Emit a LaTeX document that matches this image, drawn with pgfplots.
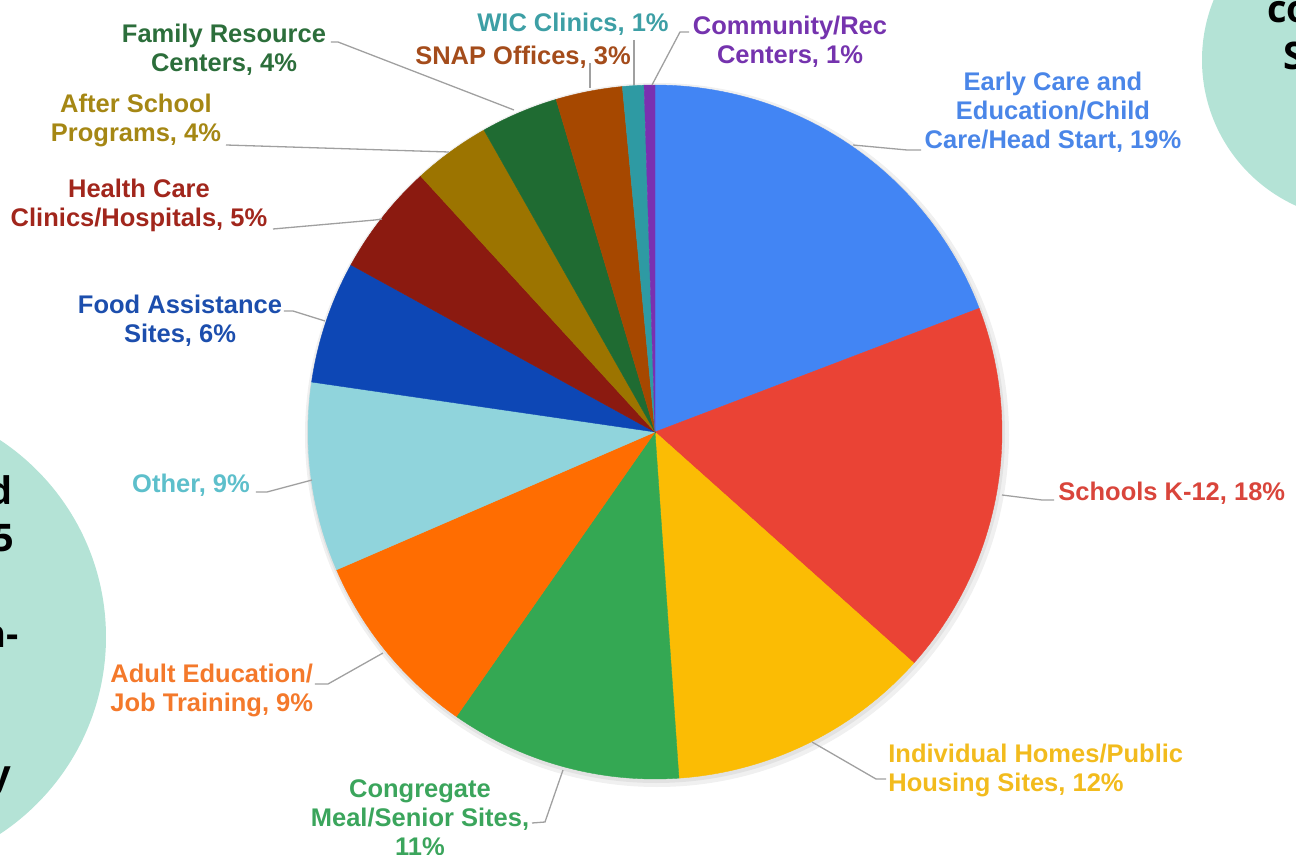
\documentclass[border=0pt]{standalone}
\usepackage{fontspec}
\setmainfont{Liberation Sans}
\newfontfamily\osb{Open Sans}
\usepackage{pgfplots}
\usepackage{pgfplotstable}
\pgfplotsset{compat=1.18}
% slice colours
\definecolor{pie0}{HTML}{4285F4}
\definecolor{pie1}{HTML}{EA4335}
\definecolor{pie2}{HTML}{FBBC04}
\definecolor{pie3}{HTML}{34A853}
\definecolor{pie4}{HTML}{FF6D01}
\definecolor{pie5}{HTML}{90D4DC}
\definecolor{pie6}{HTML}{0D47B5}
\definecolor{pie7}{HTML}{8B1A10}
\definecolor{pie8}{HTML}{9C7400}
\definecolor{pie9}{HTML}{1F6B32}
\definecolor{pie10}{HTML}{A64800}
\definecolor{pie11}{HTML}{2E9AA3}
\definecolor{pie12}{HTML}{7A30B0}
% label colours
\definecolor{lb0}{HTML}{4A86E8}
\definecolor{lb1}{HTML}{D9453B}
\definecolor{lb2}{HTML}{F2BB1D}
\definecolor{lb3}{HTML}{3BA55C}
\definecolor{lb4}{HTML}{F4792B}
\definecolor{lb5}{HTML}{5DBFCB}
\definecolor{lb6}{HTML}{1C4EAD}
\definecolor{lb7}{HTML}{A1261C}
\definecolor{lb8}{HTML}{A58714}
\definecolor{lb9}{HTML}{2C6E3B}
\definecolor{lb10}{HTML}{A44C1B}
\definecolor{lb11}{HTML}{3D9FA5}
\definecolor{lb12}{HTML}{7533AE}
\definecolor{bubble}{HTML}{B4E3D6}
\definecolor{leader}{HTML}{A0A0A0}

\tikzset{
  lbl/.style={font=\fontsize{12.75}{14.5}\selectfont\bfseries, inner sep=0pt},
  big/.style={font=\osb\fontsize{19}{22}\selectfont\bfseries, inner sep=0pt},
}

\pgfplotstableread{
val
19.2
17.4
12.3
10.8
8.8
8.8
5.7
5.2
3.6
3.6
3.1
1.0
0.5
}\piedata

\begin{document}
\begin{tikzpicture}
\useasboundingbox (0,0) rectangle (648pt,427.5pt);
\clip (0,0) rectangle (648pt,427.5pt);
\begin{axis}[
  scale only axis, width=648pt, height=427.5pt,
  xmin=0, xmax=1296, ymin=0, ymax=855, y dir=reverse,
  hide axis, clip=false,
]
% background bubbles
\fill[bubble] (axis cs:-130,637) circle [radius=118pt];
\fill[bubble] (axis cs:1362,60) circle [radius=80pt];
\node[big, anchor=base east] at (axis cs:13,505) {d};
\node[big, anchor=base east] at (axis cs:15,552) {5};
\node[big, anchor=base east] at (axis cs:19,647) {n-};
\node[big, anchor=base east] at (axis cs:12,787) {y};
\node[big, anchor=base west] at (axis cs:1267,23) {co};
\node[big, anchor=base west] at (axis cs:1283,70) {S};
% soft shadow
\fill[black, opacity=0.06] (axis cs:657,435) circle [radius=176pt];
\fill[black, opacity=0.06] (axis cs:656,434) circle [radius=174.5pt];
% slices
\def\cum{0}
\pgfplotsforeachungrouped \i in {0,...,12}{%
  \pgfplotstablegetelem{\i}{val}\of\piedata
  \pgfmathsetmacro\a{\cum*3.6}%
  \pgfmathsetmacro\cumnew{\cum+\pgfplotsretval}%
  \pgfmathsetmacro\b{\cumnew*3.6}%
  \let\cum\cumnew
  \edef\temp{\noexpand\addplot[fill=pie\i, draw=pie\i, line width=0.2pt, domain=\a:\b, samples=50]
    ({655+347*sin(x)},{432-347*cos(x)}) -- (axis cs:655,432) -- cycle;}%
  \temp
}
% leader lines
\begin{scope}[leader, line width=0.65pt]
\draw (axis cs:331,42) -- (axis cs:338,42) -- (axis cs:514,110);
\draw (axis cs:226,145) -- (axis cs:449,152);
\draw (axis cs:273,229) -- (axis cs:375,220) -- (axis cs:382,219);
\draw (axis cs:284,311) -- (axis cs:293,311) -- (axis cs:325,321);
\draw (axis cs:256,492) -- (axis cs:267,492) -- (axis cs:312,480);
\draw (axis cs:315,684) -- (axis cs:328,684) -- (axis cs:383,653);
\draw (axis cs:532,823) -- (axis cs:545,822) -- (axis cs:563,770);
\draw (axis cs:812,742) -- (axis cs:876,779) -- (axis cs:886,779);
\draw (axis cs:1002,495) -- (axis cs:1042,500) -- (axis cs:1054,500);
\draw (axis cs:853,145) -- (axis cs:907,150) -- (axis cs:921,150);
\draw (axis cs:590,63) -- (axis cs:590,88);
\draw (axis cs:634,40) -- (axis cs:634,85);
\draw (axis cs:689,32) -- (axis cs:680,32) -- (axis cs:652,85);
\end{scope}
% labels
\node[lbl, lb0, align=center] at (axis cs:1053,112) {Early Care and\\Education/Child\\Care/Head Start, 19\%};
\node[lbl, lb1, anchor=west] at (axis cs:1058,493) {Schools K-12, 18\%};
\node[lbl, lb2, align=left, anchor=west] at (axis cs:888,770) {Individual Homes/Public\\Housing Sites, 12\%};
\node[lbl, lb3, align=center] at (axis cs:420,818) {Congregate\\Meal/Senior Sites,\\11\%};
\node[lbl, lb4, align=left, anchor=west] at (axis cs:110,690) {Adult Education/\\Job Training, 9\%};
\node[lbl, lb5] at (axis cs:191,485) {Other, 9\%};
\node[lbl, lb6, align=center] at (axis cs:180,321) {Food Assistance\\Sites, 6\%};
\node[lbl, lb7, align=center] at (axis cs:139,205) {Health Care\\Clinics/Hospitals, 5\%};
\node[lbl, lb8, align=center] at (axis cs:136,120) {After School\\Programs, 4\%};
\node[lbl, lb9, align=center] at (axis cs:224,50) {Family Resource\\Centers, 4\%};
\node[lbl, lb10] at (axis cs:523,57) {SNAP Offices, 3\%};
\node[lbl, lb11] at (axis cs:573,24) {WIC Clinics, 1\%};
\node[lbl, lb12, align=center] at (axis cs:790,42) {Community/Rec\\Centers, 1\%};
\end{axis}
\end{tikzpicture}
\end{document}
